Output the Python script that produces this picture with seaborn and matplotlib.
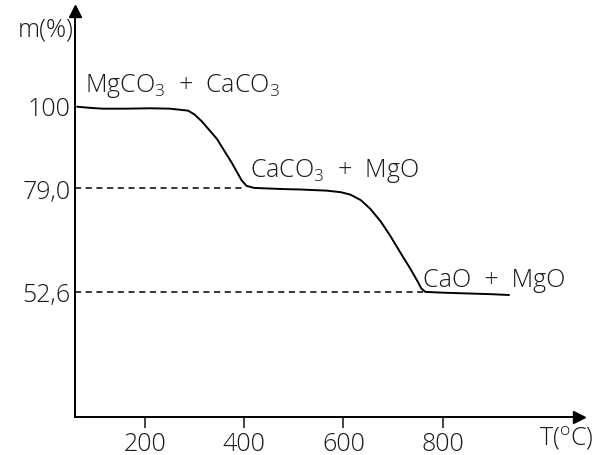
import numpy as np
import pandas as pd
import seaborn as sns
import matplotlib.pyplot as plt

# values
temp = [63, 90, 115, 160, 210, 250, 287, 300, 315, 345, 375, 395, 405, 420, 440, 480, 513, 567,
        595, 614, 635, 654, 675, 694, 715, 735, 750, 757, 765, 800, 850, 900, 934]
mass = [99.8, 99.5, 99.3, 99.3, 99.4, 99.3, 98.8, 97.8, 96.0, 91.6, 85.5, 81.0, 79.6, 79.1, 79.0,
        78.8, 78.7, 78.4, 78.0, 77.4, 76.0, 73.8, 70.6, 67.0, 62.6, 58.5, 55.2, 53.5, 52.6,
        52.4, 52.2, 52.0, 51.8]
levels = [100, 79.0, 52.6]
level_labels = ["100", "79,0", "52,6"]
level_ends = [None, 402, 761]
xticks = [200, 400, 600, 800]
phases = [r"MgCO$_3$ + CaCO$_3$", r"CaCO$_3$ + MgO", "CaO + MgO"]
phase_x = [79, 412, 760]
phase_y = [103.8, 82.2, 54.2]

sns.set_style("white")
plt.rcParams['font.family'] = ['Open Sans', 'DejaVu Sans']
plt.rcParams['font.weight'] = 'light'
plt.rcParams['mathtext.fontset'] = 'custom'
plt.rcParams['mathtext.rm'] = 'Open Sans:light'
plt.rcParams['mathtext.it'] = 'Open Sans:light'

fig = plt.figure(figsize=(5.95, 4.56), dpi=100)
ax = fig.add_axes([0.126, 0.0833, 0.847, 0.8904])
x0, x1 = 58.8, 1075
y0, y1 = 20.7, 124.2
ax.set_xlim(x0, x1)
ax.set_ylim(y0, y1)

df = pd.DataFrame({"T": temp, "m": mass})
sns.lineplot(data=df, x="T", y="m", sort=False, color="black", lw=1.4, ax=ax)

for lev, end in zip(levels, level_ends):
    if end is None:
        continue
    sns.lineplot(x=[x0, end], y=[lev, lev], color="black", lw=1.1,
                 linestyle=(0, (4, 3)), ax=ax)

for txt, px, py in zip(phases, phase_x, phase_y):
    ax.text(px, py, txt.replace(" + ", "  +  "), fontsize=18, va="baseline", ha="left",
            color="#1a1a1a")

for s in ["top", "right"]:
    ax.spines[s].set_visible(False)
for s in ["left", "bottom"]:
    ax.spines[s].set_linewidth(1.4)
    ax.spines[s].set_color("black")

ax.set_xticks(xticks)
ax.set_xticklabels([str(t) for t in xticks], fontsize=18, color="#1a1a1a")
ax.tick_params(axis="x", direction="out", length=8, width=1.2, pad=2, bottom=True)
ax.set_yticks(levels)
ax.set_yticklabels(level_labels, fontsize=18, color="#1a1a1a")
ax.tick_params(axis="y", length=0, pad=3)
ax.set_xlabel("")
ax.set_ylabel("")

# arrow heads on axes
ax.plot(1, 0, ">", color="black", ms=9, transform=ax.transAxes, clip_on=False)
ax.plot(0, 1, "^", color="black", ms=9, transform=ax.transAxes, clip_on=False)

fig.text(0.123, 0.92, "m(%)", fontsize=18, ha="right", va="baseline", color="#1a1a1a")
fig.text(0.997, 0.022, r"T($^{\mathrm{o}}$C)", fontsize=18, ha="right", va="baseline",
         color="#1a1a1a")

fig.savefig("out.png", dpi=100)
